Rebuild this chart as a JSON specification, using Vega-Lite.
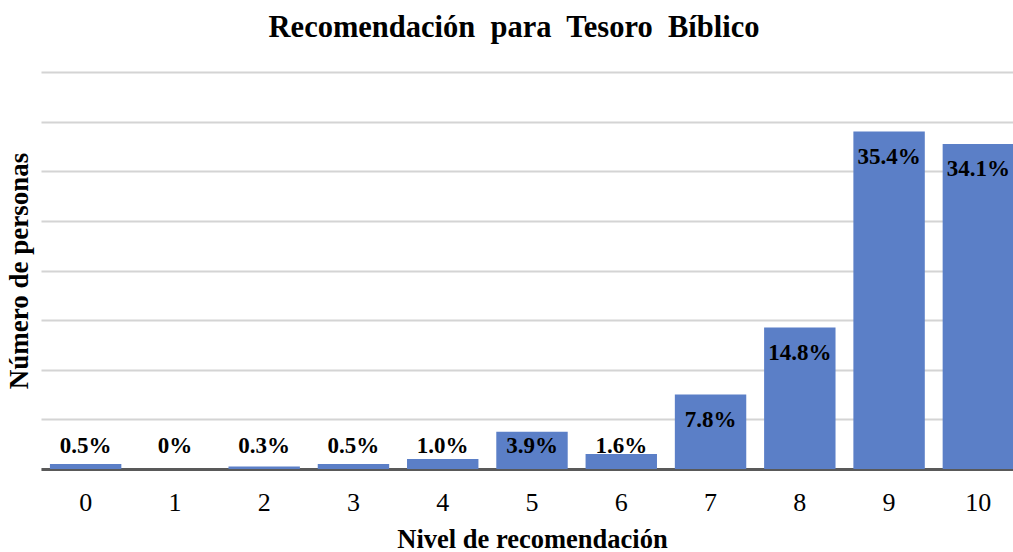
{
  "$schema": "https://vega.github.io/schema/vega-lite/v6.json",
  "width": 972,
  "height": 397,
  "autosize": {"type": "none"},
  "padding": {"left": 41, "top": 72, "right": 0, "bottom": 83},
  "background": "white",
  "config": {
    "view": {"stroke": null},
    "font": "Liberation Serif"
  },
  "title": {
    "text": "Recomendación\u00a0 para\u00a0 Tesoro\u00a0 Bíblico",
    "font": "Liberation Serif",
    "fontSize": 30.5,
    "fontWeight": "bold",
    "color": "black",
    "anchor": "middle",
    "offset": 29,
    "dx": -13
  },
  "data": {
    "values": [
      {"nivel": "0", "personas": 2, "pct": "0.5%"},
      {"nivel": "1", "personas": 0, "pct": "0%"},
      {"nivel": "2", "personas": 1, "pct": "0.3%"},
      {"nivel": "3", "personas": 2, "pct": "0.5%"},
      {"nivel": "4", "personas": 4, "pct": "1.0%"},
      {"nivel": "5", "personas": 15, "pct": "3.9%"},
      {"nivel": "6", "personas": 6, "pct": "1.6%"},
      {"nivel": "7", "personas": 30, "pct": "7.8%"},
      {"nivel": "8", "personas": 57, "pct": "14.8%"},
      {"nivel": "9", "personas": 136, "pct": "35.4%"},
      {"nivel": "10", "personas": 131, "pct": "34.1%"}
    ]
  },
  "encoding": {
    "x": {
      "field": "nivel",
      "type": "ordinal",
      "sort": null,
      "scale": {"range": [0, 982], "paddingInner": 0.2, "paddingOuter": 0.1},
      "axis": {
        "title": "Nivel de recomendación",
        "titleFont": "Liberation Serif",
        "titleFontSize": 26.5,
        "titleFontWeight": "bold",
        "titleColor": "black",
        "titlePadding": 11,
        "labelFont": "Liberation Serif",
        "labelFontSize": 26,
        "labelColor": "black",
        "labelAngle": 0,
        "labelPadding": 20,
        "ticks": false,
        "domainColor": "#595959",
        "domainWidth": 3,
        "grid": false
      }
    }
  },
  "layer": [
    {
      "mark": {"type": "bar", "color": "#5b7fc7"},
      "encoding": {
        "y": {
          "field": "personas",
          "type": "quantitative",
          "scale": {"domain": [0, 160], "nice": false},
          "axis": {
            "title": "Número de personas",
            "titleFont": "Liberation Serif",
            "titleFontSize": 27,
            "titleFontWeight": "bold",
            "titleColor": "black",
            "titlePadding": 8,
            "values": [0, 20, 40, 60, 80, 100, 120, 140, 160],
            "labels": false,
            "ticks": false,
            "domain": false,
            "gridColor": "#d4d4d4",
            "gridWidth": 2
          }
        }
      }
    },
    {
      "transform": [{"filter": "datum.personas >= 20"}],
      "mark": {"type": "text", "font": "Liberation Serif", "fontSize": 23, "fontWeight": "bold", "color": "black", "baseline": "middle", "dy": 25},
      "encoding": {
        "y": {"field": "personas", "type": "quantitative"},
        "text": {"field": "pct"}
      }
    },
    {
      "transform": [{"filter": "datum.personas < 20"}],
      "mark": {"type": "text", "font": "Liberation Serif", "fontSize": 23, "fontWeight": "bold", "color": "black", "baseline": "middle", "dy": 1},
      "encoding": {
        "y": {"datum": 9.8, "type": "quantitative"},
        "text": {"field": "pct"}
      }
    }
  ]
}
